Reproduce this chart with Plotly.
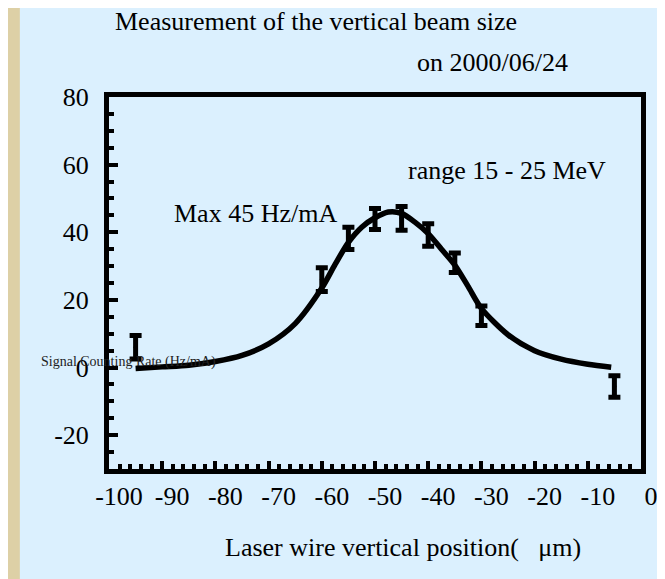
import plotly.graph_objects as go

# measured points (position in um, rate in Hz/mA, error)
pos_um = [-95, -60, -55, -50, -45, -40, -35, -30, -5]
rate = [6.0, 26.0, 38.2, 43.9, 44.1, 39.2, 31.0, 15.3, -5.6]
rate_err = [3.5, 3.5, 3.3, 3.1, 3.5, 3.3, 2.9, 2.9, 3.2]

# fitted curve
fit_x = [-95, -90, -85, -80, -75, -70, -65, -60, -57.5, -55, -52.5, -50, -47.5,
         -45, -42.5, -40, -37.5, -35, -32.5, -30, -25, -20, -15, -10, -5.6]
fit_y = [-0.3, 0.2, 0.7, 1.8, 3.6, 7.0, 13.0, 23.5, 30.5, 37.0, 41.5, 44.3, 46.0,
         45.6, 43.0, 39.6, 35.0, 30.3, 24.0, 17.5, 9.7, 5.0, 2.5, 1.0, 0.1]

x_ticks = list(range(-100, 1, 10))
x_labels = [str(v) for v in x_ticks]
y_ticks = list(range(-20, 81, 20))
y_labels = [str(v) for v in y_ticks]

BLUE = "#dbf0fe"
BEIGE = "#ddd0a6"
SERIF = "Liberation Serif"

# the page puts the figure 8px in from the corner, so lay out in screen pixels
OFF = 8
W, H = 665 - OFF, 579 - OFF
L, R, T, B = 101, 7, 89, 110
PW, PH = W - L - R, H - T - B


def px(sx):
    return (sx - OFF - L) / PW


def py(sy):
    return (H - B - (sy - OFF)) / PH


fig = go.Figure()

fig.add_trace(
    go.Scatter(
        x=fit_x,
        y=fit_y,
        mode="lines",
        line=dict(color="black", width=5.5, shape="spline", smoothing=0.8),
        showlegend=False,
        hoverinfo="skip",
    )
)
fig.add_trace(
    go.Scatter(
        x=pos_um,
        y=rate,
        mode="markers",
        marker=dict(size=4, color="black"),
        error_y=dict(type="data", array=rate_err, color="black", thickness=5, width=6),
        showlegend=False,
    )
)

# text, screen centre x, screen centre y, size
texts = [
    ("Measurement of the vertical beam size", 323, 22, 26),
    ("on 2000/06/24", 505, 62, 26),
    ("range 15 - 25 MeV", 520, 170, 26),
    ("Max 45 Hz/mA", 260, 213, 26),
    ("Laser wire vertical position(   \u03bcm)", 412, 547, 26),
]
annotations = [
    dict(text=t, x=px(x), y=py(y), xref="paper", yref="paper", showarrow=False,
         xanchor="center", yanchor="middle", font=dict(family=SERIF, size=s, color="black"))
    for t, x, y, s in texts
]
annotations.append(
    dict(text="Signal Counting Rate (Hz/mA)", x=px(37), y=py(362), xref="paper",
         yref="paper", showarrow=False, xanchor="left", yanchor="middle",
         font=dict(family=SERIF, size=14, color="#222"))
)

fig.update_layout(
    width=W,
    height=H,
    margin=dict(l=L, r=R, t=T, b=B),
    paper_bgcolor=BEIGE,
    plot_bgcolor=BLUE,
    font=dict(family=SERIF, size=26, color="black"),
    annotations=annotations,
    shapes=[
        dict(type="rect", xref="paper", yref="paper", x0=px(17), x1=px(700),
             y0=py(6), y1=py(600), fillcolor=BLUE, line=dict(width=0), layer="below"),
    ],
)
fig.update_xaxes(
    range=[-100, 0],
    tickvals=x_ticks,
    ticktext=x_labels,
    ticks="inside",
    ticklen=8,
    tickwidth=4,
    tickcolor="black",
    minor=dict(dtick=2, ticks="inside", ticklen=5, tickwidth=4, tickcolor="black"),
    showline=True,
    linewidth=5,
    linecolor="black",
    mirror=True,
    showgrid=False,
    zeroline=False,
    ticklabelstandoff=0,
    ticklabelshift=10,
    ticklabeloverflow="allow",
)
fig.update_yaxes(
    range=[-30, 80],
    tickvals=y_ticks,
    ticktext=y_labels,
    ticks="inside",
    ticklen=9,
    tickwidth=4,
    tickcolor="black",
    minor=dict(dtick=5, ticks="inside", ticklen=5, tickwidth=4, tickcolor="black"),
    showline=True,
    linewidth=5,
    linecolor="black",
    mirror=True,
    showgrid=False,
    zeroline=False,
    ticklabelstandoff=10,
)

fig.write_html("out.html")
